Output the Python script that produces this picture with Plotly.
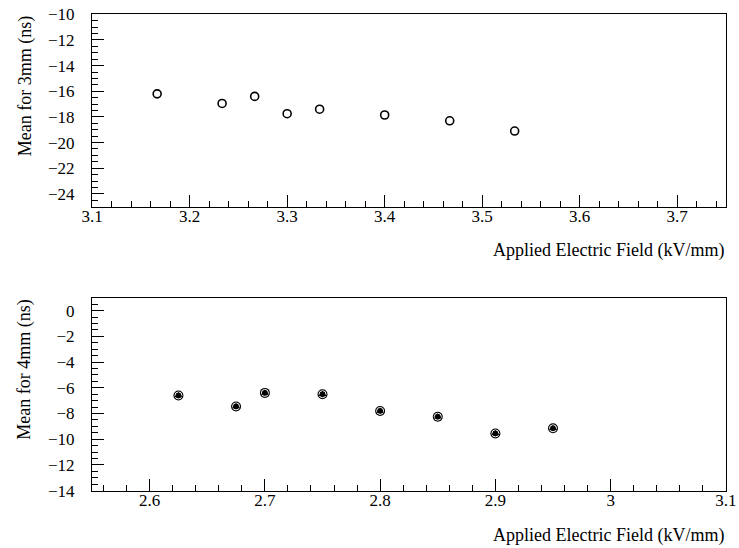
import plotly.graph_objects as go

# Mean timing offset vs applied field, 3 mm gap
field_3mm = [3.1667, 3.2333, 3.2667, 3.3000, 3.3333, 3.4000, 3.4667, 3.5333]
mean_3mm = [-16.2, -16.95, -16.4, -17.75, -17.4, -17.85, -18.3, -19.1]

# Mean timing offset vs applied field, 4 mm gap
field_4mm = [2.625, 2.675, 2.700, 2.750, 2.800, 2.850, 2.900, 2.950]
mean_4mm = [-6.6, -7.45, -6.4, -6.5, -7.8, -8.25, -9.55, -9.15]

x_title = "Applied Electric Field (kV/mm)"
y_title_3mm = "Mean for 3mm (ns)"
y_title_4mm = "Mean for 4mm (ns)"

W, H = 739, 548
FONT = "Liberation Serif"

fig = go.Figure()

fig.add_trace(go.Scatter(
    x=field_3mm, y=mean_3mm, mode="markers", xaxis="x", yaxis="y",
    marker=dict(symbol="circle-open", size=8, color="black", line=dict(width=1.6)),
    showlegend=False, hoverinfo="x+y"))

# 4 mm: layered marker (black disc, white ring, black triangle)
fig.add_trace(go.Scatter(
    x=field_4mm, y=mean_4mm, mode="markers", xaxis="x2", yaxis="y2",
    marker=dict(symbol="circle", size=10, color="black", line=dict(width=0)),
    showlegend=False, hoverinfo="x+y"))
fig.add_trace(go.Scatter(
    x=field_4mm, y=mean_4mm, mode="markers", xaxis="x2", yaxis="y2",
    marker=dict(symbol="circle-open", size=7, color="white", line=dict(width=1)),
    showlegend=False, hoverinfo="skip"))
fig.add_trace(go.Scatter(
    x=field_4mm, y=mean_4mm, mode="markers", xaxis="x2", yaxis="y2",
    marker=dict(symbol="triangle-up", size=7, color="black", line=dict(width=0)),
    showlegend=False, hoverinfo="skip"))

x_dom = [92 / W, 726 / W]
top_dom = [1 - 206.7 / H, 1 - 14.3 / H]
bot_dom = [1 - 490.7 / H, 1 - 297.7 / H]


def xaxis(rng, dom, anchor):
    return dict(
        domain=dom, range=rng, anchor=anchor, tick0=0, dtick=0.1,
        ticks="inside", ticklen=12, tickwidth=1, tickcolor="black",
        minor=dict(dtick=0.02, ticks="inside", ticklen=6, tickwidth=1,
                   tickcolor="black", showgrid=False),
        showline=True, linecolor="black", linewidth=1, mirror=True,
        showgrid=False, zeroline=False,
        automargin=False, ticklabelstandoff=-6)


def yaxis(rng, dom, anchor):
    return dict(
        domain=dom, range=rng, anchor=anchor, tick0=0, dtick=2,
        ticks="inside", ticklen=12, tickwidth=1, tickcolor="black",
        minor=dict(dtick=0.5, ticks="inside", ticklen=6, tickwidth=1,
                   tickcolor="black", showgrid=False),
        showline=True, linecolor="black", linewidth=1, mirror=True,
        showgrid=False, zeroline=False,
        automargin=False, ticklabelstandoff=13)


fig.update_layout(
    template="none",
    width=W, height=H,
    margin=dict(l=0, r=0, t=0, b=0, pad=0),
    paper_bgcolor="white", plot_bgcolor="white",
    font=dict(family=FONT, size=17, color="black"),
    xaxis=xaxis([3.0999, 3.75], x_dom, "y"),
    yaxis=yaxis([-25, -9.999], top_dom, "x"),
    xaxis2=xaxis([2.55, 3.1001], x_dom, "y2"),
    yaxis2=yaxis([-14.001, 1], bot_dom, "x2"),
)
fig.update_xaxes(tickfont_family=FONT, tickfont_size=17, tickfont_color="black")
fig.update_yaxes(tickfont_family=FONT, tickfont_size=17, tickfont_color="black")

title_font = dict(family=FONT, size=18, color="black")
annotations = [
    dict(text=x_title, x=726 / W, y=1 - 250 / H, xref="paper", yref="paper",
         xanchor="right", yanchor="middle", showarrow=False, font=title_font),
    dict(text=x_title, x=726 / W, y=1 - 535 / H, xref="paper", yref="paper",
         xanchor="right", yanchor="middle", showarrow=False, font=title_font),
    dict(text=y_title_3mm, x=25 / W, y=top_dom[1], xref="paper", yref="paper",
         xanchor="center", yanchor="top", textangle=-90, showarrow=False, font=title_font),
    dict(text=y_title_4mm, x=25 / W, y=bot_dom[1], xref="paper", yref="paper",
         xanchor="center", yanchor="top", textangle=-90, showarrow=False, font=title_font),
]
fig.update_layout(annotations=annotations)

fig.write_html("out.html", config={"responsive": False})
